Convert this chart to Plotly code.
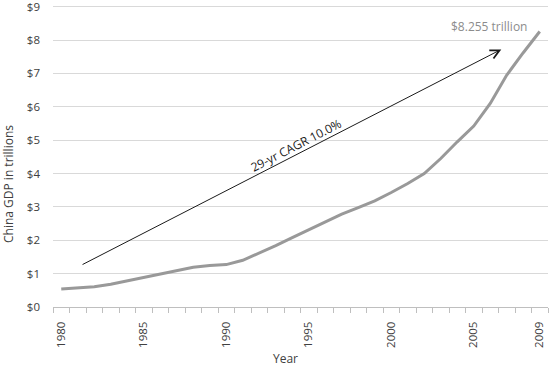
import plotly.graph_objects as go

years = list(range(1980, 2010))
gdp_trillions = [0.54, 0.57, 0.61, 0.68, 0.78, 0.89, 0.98, 1.07, 1.19, 1.24,
                 1.27, 1.40, 1.61, 1.84, 2.08, 2.32, 2.55, 2.78, 2.98, 3.18,
                 3.43, 3.70, 4.00, 4.45, 4.95, 5.42, 6.10, 6.95, 7.62, 8.255]

x_tick_vals = [1980, 1985, 1990, 1995, 2000, 2005, 2009]
y_tick_vals = list(range(0, 10))
y_tick_text = ["$" + str(v) for v in y_tick_vals]

cagr_start = (1981.2, 1.25)
cagr_end = (2006.67, 7.72)
cagr_label = "29-yr CAGR 10.0%"
end_label = "$8.255 trillion"

FONT = "Open Sans"
TXT = "#404040"

W, H = 550, 369
l, r, t, b = 53, 2, 5, 62

fig = go.Figure()
fig.add_trace(go.Scatter(
    x=years, y=gdp_trillions, mode="lines",
    line=dict(color="#999999", width=3),
    hoverinfo="skip", showlegend=False,
))

fig.update_layout(
    width=W, height=H,
    margin=dict(l=l, r=r, t=t, b=b, autoexpand=False),
    paper_bgcolor="white", plot_bgcolor="white",
    font=dict(family=FONT, size=11.5, color=TXT),
    showlegend=False,
    xaxis=dict(
        range=[1979.5, 2009.5], tickvals=x_tick_vals,
        ticks="", tickangle=-90, showgrid=False, zeroline=False,
        showline=True, linecolor="#bfbfbf", linewidth=1,
        ticklabelstandoff=9, automargin=False, ticklabeloverflow="allow",
        minor=dict(tick0=1979.5, dtick=1, ticks="outside", ticklen=5,
                   tickcolor="#bfbfbf", tickwidth=1, showgrid=False),
        tickfont=dict(family=FONT, size=11.5, color=TXT),
    ),
    yaxis=dict(
        range=[0, 9.05], tickvals=y_tick_vals, ticktext=y_tick_text,
        showgrid=True, gridcolor="#d9d9d9", gridwidth=1, zeroline=False,
        showline=False, ticks="", ticklabelstandoff=12, automargin=False,
        ticklabeloverflow="allow",
        tickfont=dict(family=FONT, size=11.5, color=TXT),
    ),
    annotations=[
        dict(x=cagr_end[0], y=cagr_end[1], ax=cagr_start[0], ay=cagr_start[1],
             xref="x", yref="y", axref="x", ayref="y", text="",
             showarrow=True, arrowhead=5, arrowsize=1.8, arrowwidth=1,
             arrowcolor="#1a1a1a", standoff=0, startstandoff=0),
        dict(x=1994.2, y=4.85, xref="x", yref="y", text=cagr_label,
             textangle=-27.2, showarrow=False,
             font=dict(family=FONT, size=12, color="#1a1a1a")),
        dict(x=2005.9, y=8.42, xref="x", yref="y", text=end_label,
             showarrow=False, xanchor="center", yanchor="middle",
             font=dict(family=FONT, size=12, color="#8c8c8c")),
        dict(x=8, y=184, xref="paper", yref="paper", text="China GDP in trillions",
             showarrow=False, textangle=-90, xanchor="center", yanchor="middle",
             font=dict(family=FONT, size=12, color=TXT)),
        dict(x=285, y=368.5, xref="paper", yref="paper", text="Year",
             showarrow=False, xanchor="center", yanchor="bottom",
             font=dict(family=FONT, size=12, color=TXT)),
    ],
)

# convert pixel positions of axis titles to paper coordinates
pw, ph = W - l - r, H - t - b
for a in fig.layout.annotations:
    if a.xref == "paper":
        px, py = a.x, a.y
        a.x = (px - l) / pw
        a.y = (H - b - py) / ph

fig.write_html("out.html", config={"displayModeBar": False, "staticPlot": True},
               post_script="document.body.style.margin='0';document.body.style.overflow='hidden';")
